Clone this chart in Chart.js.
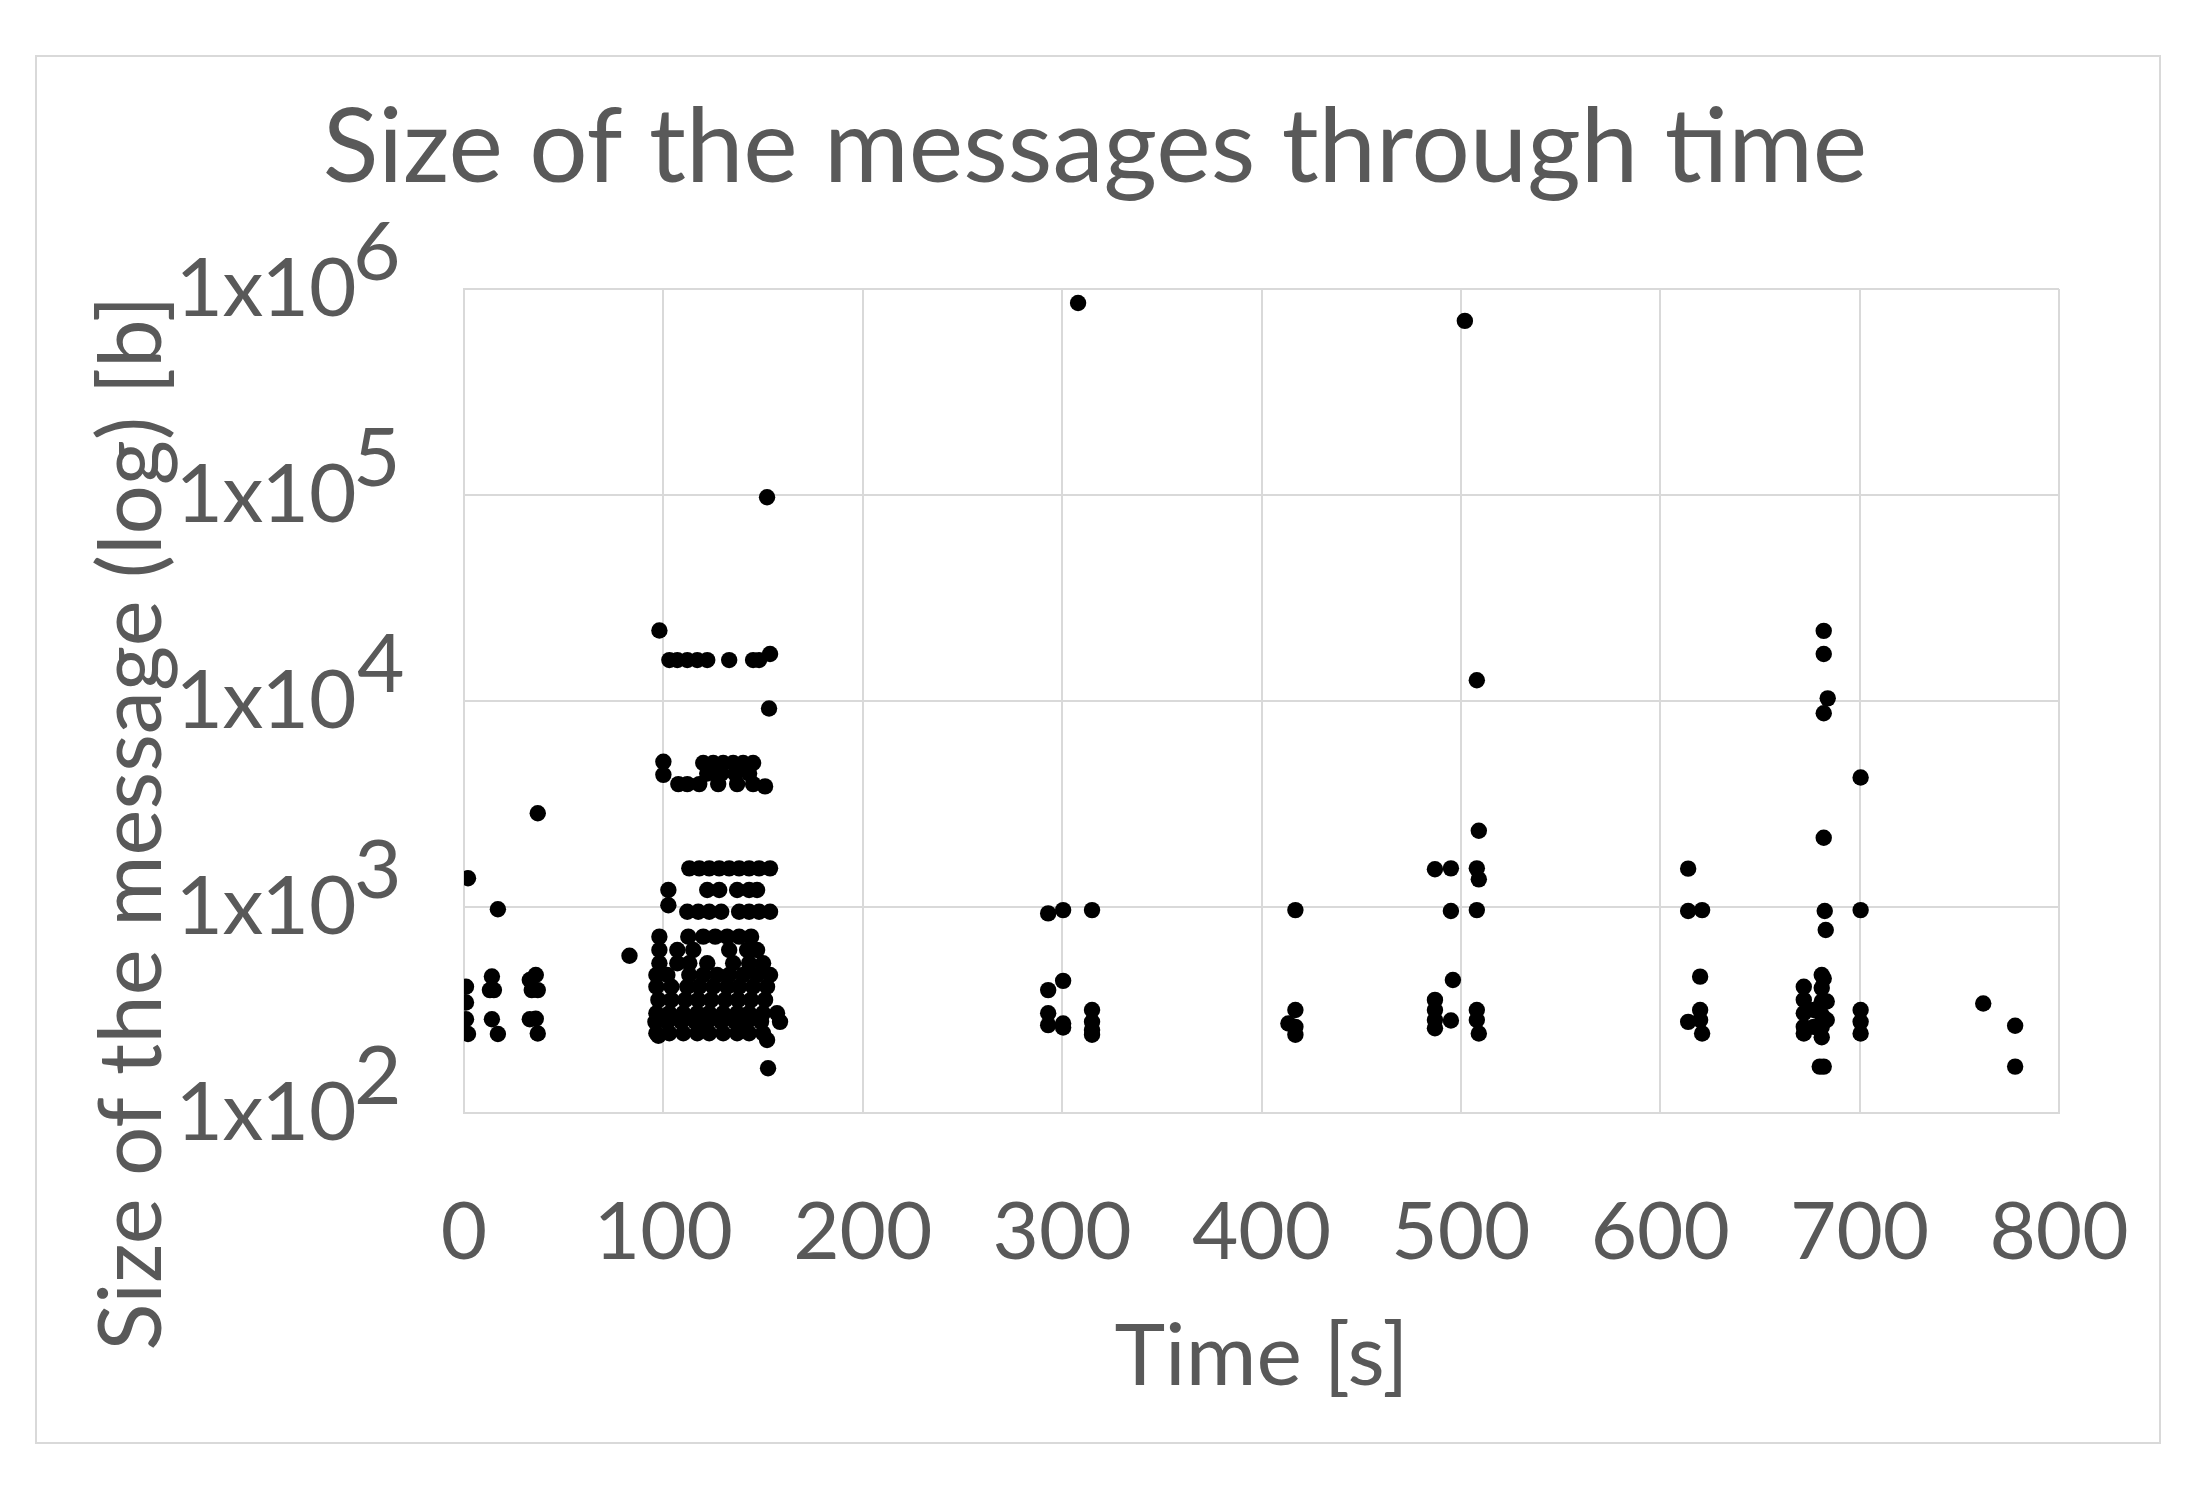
<!DOCTYPE html>
<html>
<head>
<meta charset="utf-8">
<title>Size of the messages through time</title>
<script src="https://cdn.jsdelivr.net/npm/chart.js@4.4.1/dist/chart.umd.min.js"></script>
<style>
    html, body { margin: 0; padding: 0; background: #fff; }
    #frame {
        position: absolute; left: 35px; top: 55px;
        width: 2122px; height: 1385px;
        border: 2px solid #d9d9d9;
    }
    #wrap { position: absolute; left: 0; top: 0; width: 2190px; height: 1492px; }
</style>
</head>
<body>
<div id="frame"></div>
<div id="wrap"><canvas id="sizeChart"></canvas></div>

<script>
// ────────────────────────────────────────
// Data — [time (s), size (b)]
// ────────────────────────────────────────
const burstStart = [
    [2, 1380], [1, 410], [1, 344], [1, 285], [2, 242],
    [14, 460], [13, 395], [15, 395], [14, 285], [17, 242], [17, 975],
    [33, 442], [36, 468], [34, 395], [37, 395], [33, 285], [36, 287], [37, 243],
    [37, 2850], [83, 580],
];

const burstMainHigh = [
    [98, 22000],
    [103, 15800], [107, 15800], [112, 15800], [117, 15800], [122, 15800],
    [133, 15800], [145, 15800], [148, 15800], [153.5, 16900],
    [153, 9200], [152, 97500],
    [100, 5070], [120, 5000], [125, 5000], [130, 5000], [135, 5000], [140, 5000], [145, 5000],
    [100, 4380], [122, 4450], [129, 4450], [136, 4450], [143, 4450],
    [107.5, 3950], [112, 3950], [118, 3950], [127.5, 3950], [137, 3950], [145, 3950], [151, 3850],
    [113, 1540], [118, 1540], [123, 1540], [128, 1540], [133, 1540], [138, 1540], [143, 1540], [148, 1540], [153.5, 1540],
    [102.5, 1210], [122, 1210], [128, 1210], [137, 1210], [143, 1210], [147, 1210],
    [102.5, 1020], [112, 948], [117.5, 948], [123, 948], [129, 948], [138, 948], [143, 948], [148, 948], [153.5, 948],
];

const burstMainLow = [
    [98, 718], [112.5, 718], [120, 718], [126, 718], [132, 718], [138, 718], [144, 718],
    [98, 618], [107, 618], [115, 618], [133, 618], [142, 618], [147, 618],
    [98, 533], [107, 533], [113, 533], [122, 533], [135, 533], [143, 533], [150, 533],
    [96.5, 468], [102, 468], [113, 468], [120, 468], [127, 468], [133, 468], [140, 468], [147, 468], [153.5, 468],
    [96.5, 410], [104, 410], [112, 410], [118, 410], [125, 410], [132, 410], [138, 410], [145, 410], [152, 410],
    [97.5, 354], [104, 354], [111, 354], [117.5, 354], [124, 354], [131, 354], [137.5, 354], [144, 354], [151, 354],
    [96.5, 305], [103, 305], [110, 305], [117, 305], [123, 305], [130, 305], [137, 305], [143, 305], [150, 305], [157, 305],
    [96, 277], [102, 277], [109, 277], [116, 277], [122, 277], [129, 277], [136, 277], [142, 277], [149, 277], [158.5, 277],
    [96.5, 244], [103, 244], [110, 244], [117, 244], [123, 244], [130, 244], [137, 244], [143, 244], [150, 244],
    [97.5, 237], [152, 226], [152.5, 165],
];

const burst300 = [
    [308, 855000],
    [293, 931], [300.5, 966], [315, 966],
    [293, 395], [300.5, 438], [293, 305], [293, 267], [300.5, 272], [300.5, 260],
    [315, 316], [315, 277], [315, 253], [315, 240],
];

const burst420 = [
    [417, 966], [417, 316], [413.5, 272], [417, 262], [417, 240],
];

const burst500 = [
    [502, 700000], [508, 12600], [509, 2345],
    [487, 1525], [495, 1540], [508, 1540], [509, 1362],
    [495, 957], [508, 966], [496, 442],
    [487, 354], [487, 316], [487, 283], [487, 258], [495, 281],
    [508, 316], [508, 283], [509, 243],
];

const burst615 = [
    [614, 1535], [614, 957], [621, 966], [620, 459],
    [620, 316], [620, 283], [614, 277], [621, 243],
];

const burst680 = [
    [682, 21900], [682, 16900], [684, 10300], [682, 8720], [682, 2170],
    [682.5, 957], [683, 773], [682, 450],
    [672, 410], [672, 354], [672, 305], [672, 262], [672, 243],
    [681, 468], [681, 404], [681, 348], [681, 299], [681, 262], [681, 233],
    [683.5, 348], [683.5, 283], [677, 316], [677, 262],
    [680, 168], [682, 168],
];

const burst700 = [
    [700.5, 4250], [700.5, 966], [700.5, 316], [700.5, 277], [700.5, 243],
];

const burstEnd = [
    [762, 340], [778, 265], [778, 168],
];

const yTicks = [100, 1000, 10000, 100000, 1000000];
const yExponents = ['2', '3', '4', '5', '6'];

// ────────────────────────────────────────
// Excel style "1x10^n" labels + rotated y title
// ────────────────────────────────────────
const TEXT = '#595959';
const FONT = 'Lato, "Open Sans", sans-serif';

// place a piece of text so that its ink starts (or ends) at x
function inkText(ctx, str, x, baseline, fromRight) {
    const m = ctx.measureText(str);
    const x0 = fromRight ? x - m.actualBoundingBoxRight : x + m.actualBoundingBoxLeft;
    ctx.fillText(str, x0, baseline);
    return x0 - m.actualBoundingBoxLeft; // ink left edge
}

const yLabels = {
    id: 'yLabels',
    afterDraw(chart) {
        const { ctx, scales: { y } } = chart;
        ctx.save();
        ctx.fillStyle = TEXT;
        ctx.textBaseline = 'alphabetic';
        ctx.textAlign = 'left';
        ctx.font = `82px ${FONT}`;
        yTicks.forEach((v, i) => {
            const py = y.getPixelForValue(v);
            const base = py + 27;
            let left = inkText(ctx, '10', 355, base, true);
            left = inkText(ctx, 'x', left - 5, base, true);
            inkText(ctx, '1', left - 5, base, true);
            inkText(ctx, yExponents[i], 357, py - 9, false);
        });

        ctx.font = `87px ${FONT}`;
        ctx.textAlign = 'center';
        ctx.translate(161, 823);
        ctx.rotate(-Math.PI / 2);
        ctx.fillText('Size of the message (log) [b]', 0, 0);
        ctx.restore();
    },
};

const points = [
    ...burstStart, ...burstMainHigh, ...burstMainLow, ...burst300, ...burst420,
    ...burst500, ...burst615, ...burst680, ...burst700, ...burstEnd,
].map(([x, y]) => ({ x, y }));

new Chart(document.getElementById('sizeChart'), {
    type: 'scatter',
    data: {
        datasets: [{
            label: 'Messages',
            data: points,
            backgroundColor: '#000',
            pointBackgroundColor: '#000',
            pointBorderWidth: 0,
            pointRadius: 8.2,
        }],
    },
    options: {
        responsive: true,
        maintainAspectRatio: false,
        animation: false,
        layout: { padding: 0 },
        plugins: {
            legend: { display: false },
            tooltip: { enabled: false },
            title: {
                display: true,
                text: 'Size of the messages through time',
                color: TEXT,
                font: { family: FONT, size: 103, weight: 'normal', lineHeight: 1 },
                padding: { top: 97, bottom: 89 },
            },
        },
        scales: {
            x: {
                type: 'linear',
                min: 0,
                max: 800,
                ticks: { stepSize: 100, color: TEXT, font: { family: FONT, size: 80 }, padding: 72 },
                grid: { color: '#d9d9d9', lineWidth: 2, drawTicks: false },
                border: { color: '#d9d9d9', width: 2 },
                title: {
                    display: true,
                    text: 'Time [s]',
                    color: TEXT,
                    font: { family: FONT, size: 86 },
                    padding: { top: 0, bottom: 83 },
                },
                afterFit: (s) => {
                    s.height = 379;
                    s.paddingLeft = 0;
                    s.paddingRight = 131;
                },
            },
            y: {
                type: 'logarithmic',
                min: 100,
                max: 1000000,
                afterBuildTicks: (s) => { s.ticks = yTicks.map(v => ({ value: v })); },
                ticks: { display: false },
                grid: { color: '#d9d9d9', lineWidth: 2, drawTicks: false },
                border: { color: '#d9d9d9', width: 2 },
                afterFit: (s) => { s.width = 464; },
            },
        },
    },
    plugins: [yLabels],
});
</script>
</body>
</html>
